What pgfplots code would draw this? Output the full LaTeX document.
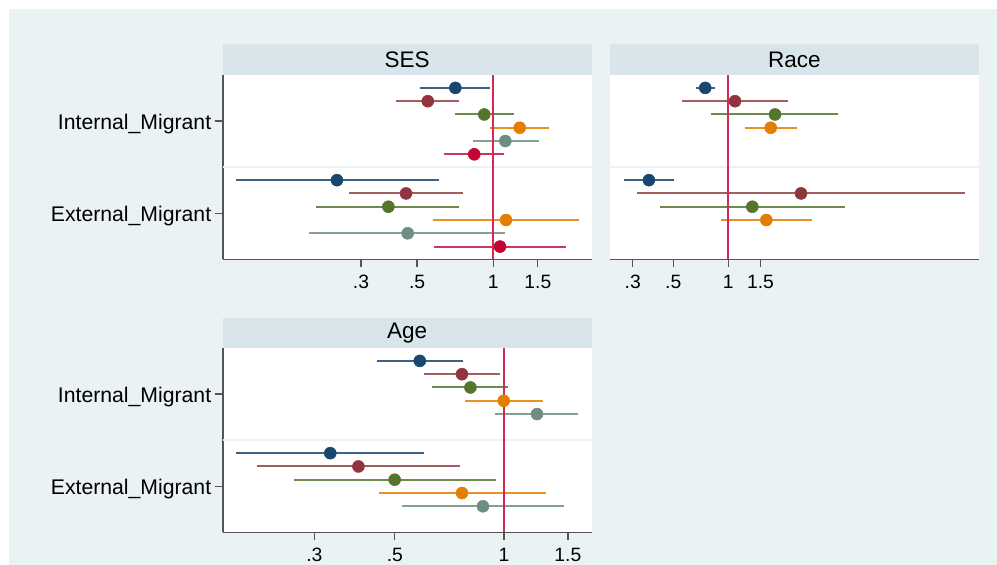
\documentclass[border=0pt]{standalone}
\usepackage{pgfplots}
\pgfplotsset{compat=1.18}
\usepackage{fontspec}
\setmainfont{Liberation Sans}
\definecolor{cnavy}{RGB}{26,71,111}
\definecolor{cmaroon}{RGB}{144,53,59}
\definecolor{cgreen}{RGB}{85,117,47}
\definecolor{corange}{RGB}{227,126,0}
\definecolor{cteal}{RGB}{110,142,132}
\definecolor{ccran}{RGB}{193,5,52}
\definecolor{bgc}{RGB}{234,242,243}
\definecolor{stripc}{RGB}{216,230,236}
\definecolor{axisc}{RGB}{85,85,85}
\definecolor{xlinec}{RGB}{213,40,85}
\tikzset{mydiv/.style={draw=bgc, line width=2pt}}
\pgfplotsset{
  mypanel/.style={
    scale only axis, width=369pt, height=184.5pt,
    ymin=0.5, ymax=2.5,
    axis background/.style={fill=white},
    axis x line*=bottom,
    axis line style={draw=axisc, line width=1.8pt},
    tick style={draw=axisc, line width=1.3pt},
    major tick length=8pt, tick align=outside,
    xtick={0.3,0.5,1,1.5},
    xticklabels={.3,.5,1,1.5},
    minor xtick={},
    xticklabel style={font=\fontsize{19.3}{19.3}\selectfont, text=black, yshift=-4pt},
    yticklabel style={font=\fontsize{21.2}{21.2}\selectfont, text=black, yshift=-3pt},
    unbounded coords=jump,
  },
  myylab/.style={axis y line*=left, ytick={1,2}, yticklabels={External\_Migrant,Internal\_Migrant}},
  mynolab/.style={axis y line=none, ytick=\empty},
  myci/.style={line width=2pt, mark=none},
  mypt/.style={only marks, mark=*, mark size=6pt, mark options={line width=0.5pt}},
  myxl/.style={draw=xlinec, line width=2.2pt, mark=none},
}
\begin{document}
\begin{tikzpicture}
\useasboundingbox (0,0) rectangle (997pt,565pt);
\clip (0,0) rectangle (997pt,565pt);
\fill[white] (0,0) rectangle (997pt,565pt);
\fill[bgc] (9pt,0) rectangle (997pt,556pt);

% ---------------- SES ----------------
\begin{axis}[xmode=log, mypanel, myylab, at={(222.7pt,490pt)}, anchor=north west, xmin=0.0852, xmax=2.449]
\draw[mydiv] (rel axis cs:0,0.5) -- (rel axis cs:1,0.5);
\addplot[myci, cnavy!85!white]   coordinates {(0.515,2.36) (0.973,2.36) (nan,nan) (0.0961,1.36) (0.610,1.36)};
\addplot[myci, cmaroon!80!white] coordinates {(0.413,2.216) (0.735,2.216) (nan,nan) (0.269,1.216) (0.758,1.216)};
\addplot[myci, cgreen!85!white]  coordinates {(0.707,2.072) (1.204,2.072) (nan,nan) (0.200,1.072) (0.731,1.072)};
\addplot[myci, corange!85!white] coordinates {(0.967,1.928) (1.668,1.928) (nan,nan) (0.576,0.928) (2.181,0.928)};
\addplot[myci, cteal!85!white]   coordinates {(0.828,1.784) (1.513,1.784) (nan,nan) (0.187,0.784) (1.116,0.784)};
\addplot[myci, ccran!80!white]   coordinates {(0.639,1.64) (1.102,1.64) (nan,nan) (0.581,0.64) (1.936,0.64)};
\addplot[myxl] coordinates {(1,0.5) (1,2.5)};
\addplot[mypt, cnavy]   coordinates {(0.708,2.36) (0.241,1.36)};
\addplot[mypt, cmaroon] coordinates {(0.551,2.216) (0.452,1.216)};
\addplot[mypt, cgreen]  coordinates {(0.921,2.072) (0.385,1.072)};
\addplot[mypt, corange] coordinates {(1.272,1.928) (1.123,0.928)};
\addplot[mypt, cteal]   coordinates {(1.116,1.784) (0.459,0.784)};
\addplot[mypt, ccran]   coordinates {(0.841,1.64) (1.063,0.64)};
\end{axis}

% ---------------- Race ----------------
\begin{axis}[xmode=log, mypanel, mynolab, at={(610pt,490pt)}, anchor=north west, xmin=0.2254, xmax=23.5]
\draw[mydiv] (rel axis cs:0,0.5) -- (rel axis cs:1,0.5);
\addplot[myci, cnavy!85!white]   coordinates {(0.663,2.36) (0.846,2.36) (nan,nan) (0.269,1.36) (0.505,1.36)};
\addplot[myci, cmaroon!80!white] coordinates {(0.560,2.216) (2.113,2.216) (nan,nan) (0.315,1.216) (19.7,1.216)};
\addplot[myci, cgreen!85!white]  coordinates {(0.804,2.072) (4.0,2.072) (nan,nan) (0.425,1.072) (4.365,1.072)};
\addplot[myci, corange!85!white] coordinates {(1.229,1.928) (2.385,1.928) (nan,nan) (0.909,0.928) (2.870,0.928)};
\addplot[myxl] coordinates {(1,0.5) (1,2.5)};
\addplot[mypt, cnavy]   coordinates {(0.748,2.36) (0.368,1.36)};
\addplot[mypt, cmaroon] coordinates {(1.088,2.216) (2.498,1.216)};
\addplot[mypt, cgreen]  coordinates {(1.801,2.072) (1.353,1.072)};
\addplot[mypt, corange] coordinates {(1.706,1.928) (1.614,0.928)};
\end{axis}

% ---------------- Age ----------------
\begin{axis}[xmode=log, mypanel, myylab, at={(222.7pt,217pt)}, anchor=north west, xmin=0.1677, xmax=1.745]
\draw[mydiv] (rel axis cs:0,0.5) -- (rel axis cs:1,0.5);
\addplot[myci, cnavy!85!white]   coordinates {(0.447,2.36) (0.771,2.36) (nan,nan) (0.183,1.36) (0.602,1.36)};
\addplot[myci, cmaroon!80!white] coordinates {(0.602,2.216) (0.973,2.216) (nan,nan) (0.2085,1.216) (0.755,1.216)};
\addplot[myci, cgreen!85!white]  coordinates {(0.635,2.072) (1.026,2.072) (nan,nan) (0.263,1.072) (0.953,1.072)};
\addplot[myci, corange!85!white] coordinates {(0.782,1.928) (1.284,1.928) (nan,nan) (0.451,0.928) (1.303,0.928)};
\addplot[myci, cteal!85!white]   coordinates {(0.946,1.784) (1.603,1.784) (nan,nan) (0.524,0.784) (1.464,0.784)};
\addplot[myxl] coordinates {(1,0.5) (1,2.5)};
\addplot[mypt, cnavy]   coordinates {(0.586,2.36) (0.332,1.36)};
\addplot[mypt, cmaroon] coordinates {(0.766,2.216) (0.397,1.216)};
\addplot[mypt, cgreen]  coordinates {(0.808,2.072) (0.4995,1.072)};
\addplot[mypt, corange] coordinates {(0.998,1.928) (0.766,0.928)};
\addplot[mypt, cteal]   coordinates {(1.233,1.784) (0.875,0.784)};
\end{axis}

% ---------------- strips ----------------
\fill[stripc] (222.7pt,521pt) rectangle (591.7pt,490pt);
\fill[stripc] (610pt,521pt) rectangle (979pt,490pt);
\fill[stripc] (222.7pt,247pt) rectangle (591.7pt,217pt);
\node[font=\fontsize{22.5}{22.5}\selectfont] at (407.2pt,505.5pt) {SES};
\node[font=\fontsize{22.5}{22.5}\selectfont] at (794.5pt,505.5pt) {Race};
\node[font=\fontsize{22.5}{22.5}\selectfont] at (407.2pt,232pt) {Age};
\end{tikzpicture}
\end{document}
